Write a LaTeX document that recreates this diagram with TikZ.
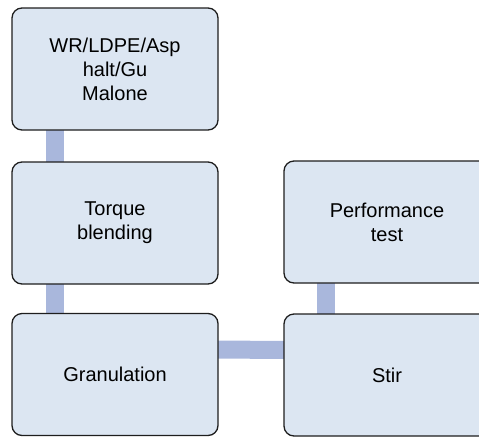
\documentclass[tikz,border=0pt]{standalone}
\usepackage{fontspec}
\setmainfont{Liberation Sans}
\usetikzlibrary{backgrounds}
\definecolor{boxfill}{HTML}{DCE6F2}
\definecolor{linkblue}{HTML}{A9B7DC}
\definecolor{edge}{HTML}{1E1E1E}
\begin{document}
\begin{tikzpicture}[x=1pt,y=-1pt,
  stepbox/.style={draw=edge, line width=1.3pt, fill=boxfill, rounded corners=10pt,
    minimum width=206pt, minimum height=122pt, inner sep=0pt, outer sep=0pt,
    align=center, font=\fontsize{20}{24}\selectfont},
  link/.style={draw=linkblue, line width=18pt}]
\useasboundingbox (0,0) rectangle (479,437);
\node[stepbox] (mat)  at (115,69)  {WR/LDPE/Asp\\halt/Gu\\Malone};
\node[stepbox] (torq) at (115,223) {Torque\\blending};
\node[stepbox] (gran) at (115,374.5) {Granulation};
\node[stepbox] (perf) at (387,222) {Performance\\test};
\node[stepbox] (stir) at (387,375) {Stir};
\begin{pgfonlayer}{background}
\draw[link] ([xshift=43pt]mat.south west) -- ([xshift=43pt]torq.north west);
\draw[link] ([xshift=43pt]torq.south west) -- ([xshift=43pt]gran.north west);
\draw[link] ([yshift=-36pt]gran.north east) -- ([yshift=-36pt]stir.north west);
\draw[link] ([xshift=42pt]perf.south west) -- ([xshift=42pt]stir.north west);
\end{pgfonlayer}
\end{tikzpicture}
\end{document}
